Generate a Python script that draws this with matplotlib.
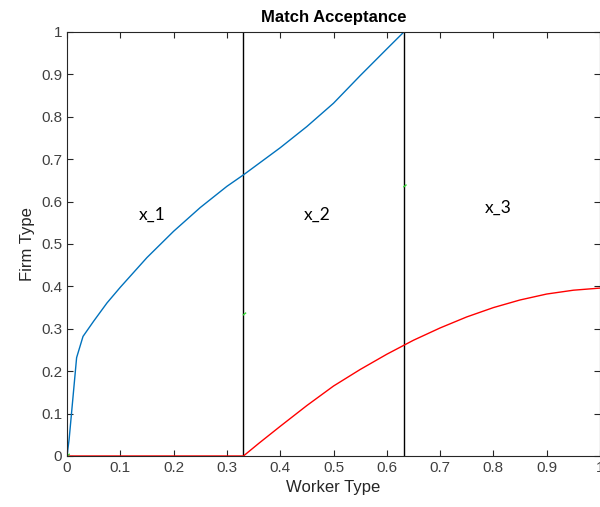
import numpy as np
import matplotlib
matplotlib.use('Agg')
import matplotlib.pyplot as plt

plt.rcParams['font.family'] = ['Liberation Sans', 'DejaVu Sans']

# ── data ────────────────────────────────────────────────────────────────────
blue_x = [0.0, 0.004, 0.018, 0.03, 0.05, 0.075, 0.10, 0.15, 0.20, 0.25, 0.30,
          0.331, 0.40, 0.45, 0.50, 0.55, 0.60, 0.632, 0.70, 0.80, 0.90, 1.0]
blue_y = [0.0, 0.04, 0.232, 0.282, 0.318, 0.361, 0.398, 0.468, 0.530, 0.586,
          0.636, 0.663, 0.727, 0.777, 0.832, 0.897, 0.960, 1.0, 1.0, 1.0, 1.0, 1.0]

red_x = [0.0, 0.2, 0.331, 0.36, 0.40, 0.45, 0.50, 0.55, 0.60, 0.65, 0.70,
         0.75, 0.80, 0.85, 0.90, 0.95, 1.0]
red_y = [0.0, 0.0, 0.0, 0.030, 0.070, 0.119, 0.165, 0.204, 0.240, 0.273,
         0.302, 0.328, 0.350, 0.368, 0.382, 0.391, 0.396]

cutoffs = [0.331, 0.632]

labels = ['x_1', 'x_2', 'x_3']
label_x = [0.16, 0.47, 0.81]
label_y = [0.57, 0.57, 0.585]

# faint green fragments visible on the reference
green_x = [0.0, 0.331, 0.632]
green_y = [0.0, 0.333, 0.635]

# ── plot ────────────────────────────────────────────────────────────────────
fig = plt.figure(figsize=(6.0, 5.07), dpi=100)
ax = fig.add_axes([0.1117, 0.1006, 0.8883, 0.8363])

for xc in cutoffs:
    ax.axvline(xc, color='black', linewidth=1.0)
ax.plot(blue_x, blue_y, color=(0.0, 0.447, 0.741), linewidth=1.0)
ax.plot(red_x, red_y, color='red', linewidth=1.0)
for gx, gy in zip(green_x, green_y):
    ax.plot([gx, gx + 0.004], [gy, gy + 0.004], color='#33dd33', linewidth=1.0)

for t, tx, ty in zip(labels, label_x, label_y):
    ax.text(tx, ty, t, fontsize=12.5, ha='center', va='center', color='black',
            family=['Lato', 'DejaVu Sans'])

ax.set_xlim(0, 1)
ax.set_ylim(0, 1)
ax.set_xticks(np.arange(0, 1.01, 0.1))
ax.set_yticks(np.arange(0, 1.01, 0.1))
ax.set_xticklabels(['0'] + [f'{v:.1f}' for v in np.arange(0.1, 0.95, 0.1)] + ['1'])
ax.set_yticklabels(['0'] + [f'{v:.1f}' for v in np.arange(0.1, 0.95, 0.1)] + ['1'])
ax.tick_params(direction='in', top=True, right=True, length=4, width=0.8,
               labelsize=11, colors='#262626', labelcolor='#404040')
for s in ax.spines.values():
    s.set_color('#262626')
    s.set_linewidth(0.8)

ax.set_xlabel('Worker Type', fontsize=12, color='#262626', labelpad=4)
ax.set_ylabel('Firm Type', fontsize=12, color='#262626', labelpad=4)
ax.set_title('Match Acceptance', fontsize=12, fontweight='bold', pad=7)

plt.savefig('out.png', dpi=100)
plt.close()
